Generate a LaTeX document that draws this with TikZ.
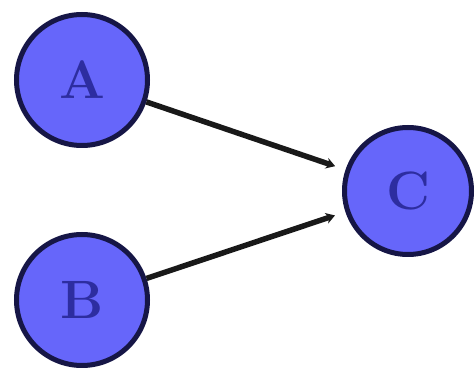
\documentclass[tikz,border=0pt]{standalone}
\usetikzlibrary{arrows.meta}
\definecolor{nodefill}{RGB}{102,102,250}
\definecolor{nodeedge}{RGB}{22,22,70}
\definecolor{nodetext}{RGB}{45,45,160}
\tikzset{
  vertex/.style={circle, draw=nodeedge, fill=nodefill, line width=5pt,
    minimum size=#1, inner sep=0pt, text=nodetext,
    font=\fontsize{54}{54}\selectfont\bfseries},
  vertex/.default=131pt,
  link/.style={line width=5.5pt, draw=black!90,
    -{Stealth[length=9pt,width=11pt]}, shorten >=11pt}
}
\begin{document}
\begin{tikzpicture}[x=1pt,y=-1pt]
\useasboundingbox (0,0) rectangle (475,371);
\node[vertex] (A) at (82,80) {A};
\node[vertex] (B) at (82,300) {B};
\node[vertex=127pt] (C) at (408,191) {C};
\draw[link] (A) -- (C);
\draw[link] (B) -- (C);
\end{tikzpicture}
\end{document}
